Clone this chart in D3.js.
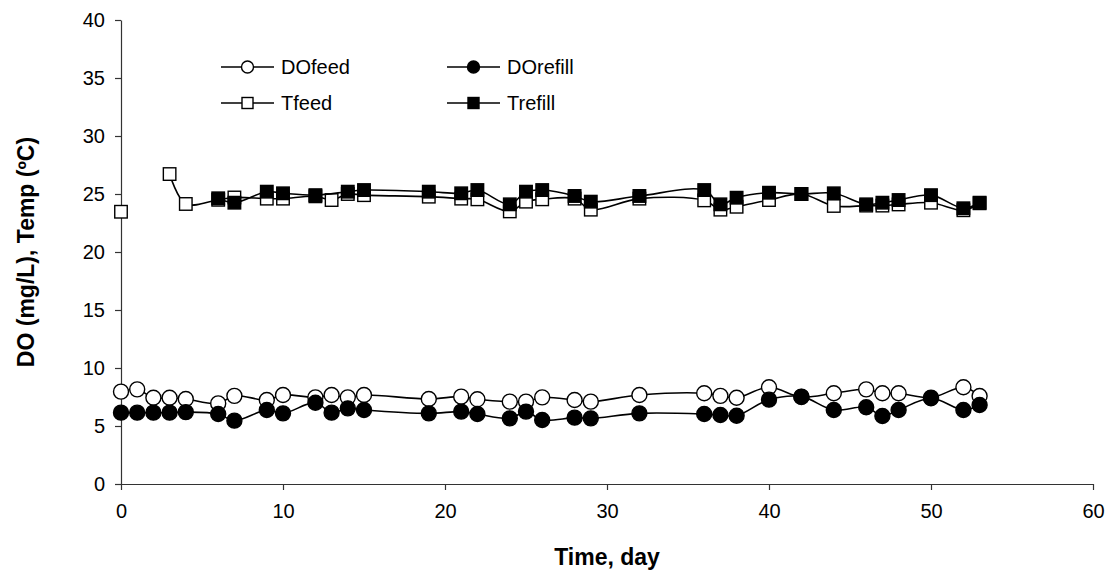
<!DOCTYPE html>
<html>
<head>
<meta charset="utf-8">
<script src="https://cdn.jsdelivr.net/npm/d3@7"></script>
<style>
  html, body { margin: 0; padding: 0; background: #fff; }
  svg { display: block; font-family: "Liberation Sans", Arial, sans-serif; }
</style>
</head>
<body>
<svg id="chart" width="1107" height="573"></svg>
<script>
// ---- data ----
const days = [0,1,2,3,4,6,7,9,10,12,13,14,15,19,21,22,24,25,26,28,29,32,36,37,38,40,42,44,46,47,48,50,52,53];
const DOfeed   = [7.96,8.16,7.44,7.44,7.33,6.95,7.6,7.24,7.67,7.47,7.67,7.47,7.67,7.33,7.53,7.3,7.1,7.1,7.47,7.24,7.1,7.67,7.82,7.6,7.44,8.34,7.5,7.82,8.16,7.82,7.82,7.45,8.34,7.59];
const DOrefill = [6.15,6.15,6.15,6.15,6.2,6.03,5.46,6.38,6.09,7.01,6.15,6.52,6.38,6.09,6.24,6.03,5.66,6.24,5.52,5.72,5.66,6.09,6.03,5.95,5.89,7.27,7.53,6.38,6.61,5.86,6.38,7.39,6.38,6.81];
const Tfeed    = [23.47,null,null,26.72,24.14,24.5,24.7,24.6,24.6,24.8,24.48,25.0,24.9,24.77,24.6,24.54,23.5,24.34,24.54,24.6,23.65,24.6,24.45,23.65,23.9,24.48,25.0,23.97,24.0,24.0,24.1,24.25,23.6,24.2];
const Trefill  = [null,null,null,null,null,24.63,24.25,25.2,25.06,24.9,null,25.2,25.34,25.2,25.06,25.34,24.11,25.2,25.34,24.83,24.34,24.83,25.34,24.11,24.68,25.11,25.0,25.06,24.11,24.25,24.48,24.9,23.77,24.25];
const seriesNames = ["DOfeed","DOrefill","Tfeed","Trefill"];
const xTicks = [0,10,20,30,40,50,60];
const yTicks = [0,5,10,15,20,25,30,35,40];
const xTitle = "Time, day";
const yTitle = "DO (mg/L), Temp (\u00BAC)";

// ---- series config ----
const series = [
  {name: seriesNames[0], values: DOfeed,   shape: "circle", fill: "#fff", gaps: false},
  {name: seriesNames[1], values: DOrefill, shape: "circle", fill: "#000", gaps: false},
  {name: seriesNames[2], values: Tfeed,    shape: "square", fill: "#fff", gaps: true},
  {name: seriesNames[3], values: Trefill,  shape: "square", fill: "#000", gaps: false}
];

const svg = d3.select("#chart");
const m = {left: 121, right: 1093, top: 20, bottom: 484};
const x = d3.scaleLinear().domain([0, 60]).range([m.left, m.right]);
const y = d3.scaleLinear().domain([0, 40]).range([m.bottom, m.top]);

// axes
const axisColor = "#333";
const xAxis = svg.append("g").attr("transform", `translate(0,${m.bottom})`)
  .call(d3.axisBottom(x).tickValues(xTicks).tickSize(6).tickPadding(14).tickSizeOuter(0));
const yAxis = svg.append("g").attr("transform", `translate(${m.left},0)`)
  .call(d3.axisLeft(y).tickValues(yTicks).tickSize(6).tickPadding(10).tickSizeOuter(0));
[xAxis, yAxis].forEach(g => {
  g.select(".domain").attr("stroke", axisColor).attr("stroke-width", 1.2);
  g.selectAll(".tick line").attr("stroke", axisColor).attr("stroke-width", 1.2);
  g.selectAll(".tick text").attr("fill", "#000").style("font-size", "20px")
    .style("font-family", "'Liberation Sans', Arial, sans-serif");
});

// titles
svg.append("text").attr("x", (m.left + m.right) / 2).attr("y", 565)
  .attr("text-anchor", "middle").style("font-size", "23px").style("font-weight", "bold")
  .text(xTitle);
svg.append("text").attr("transform", `translate(34,${(m.top + m.bottom) / 2}) rotate(-90)`)
  .attr("text-anchor", "middle").style("font-size", "23px").style("font-weight", "bold")
  .text(yTitle);

// markers
function drawMarker(g, shape, fill, cx, cy, size) {
  if (shape === "circle") {
    g.append("circle").attr("cx", cx).attr("cy", cy).attr("r", size / 2)
      .attr("fill", fill).attr("stroke", "#000").attr("stroke-width", 1.4);
  } else {
    g.append("rect").attr("x", cx - size / 2).attr("y", cy - size / 2)
      .attr("width", size).attr("height", size)
      .attr("fill", fill).attr("stroke", "#000").attr("stroke-width", 1.4);
  }
}

const curve = d3.curveCatmullRom.alpha(0.5);
series.forEach(s => {
  let pts = days.map((d, i) => ({d, v: s.values[i]}));
  if (!s.gaps) pts = pts.filter(p => p.v !== null);
  const line = d3.line().defined(p => p.v !== null)
    .x(p => x(p.d)).y(p => y(p.v)).curve(curve);
  const g = svg.append("g");
  g.append("path").attr("d", line(pts)).attr("fill", "none")
    .attr("stroke", "#000").attr("stroke-width", 1.6);
  pts.filter(p => p.v !== null).forEach(p => {
    drawMarker(g, s.shape, s.fill, x(p.d), y(p.v), s.shape === "circle" ? 15 : 12.5);
  });
});

// legend
const legendPos = [
  {lx: 221, ly: 67}, {lx: 447, ly: 67},
  {lx: 221, ly: 103}, {lx: 447, ly: 103}
];
series.forEach((s, i) => {
  const p = legendPos[i];
  const g = svg.append("g");
  g.append("line").attr("x1", p.lx).attr("x2", p.lx + 53).attr("y1", p.ly).attr("y2", p.ly)
    .attr("stroke", "#000").attr("stroke-width", 1.6);
  drawMarker(g, s.shape, s.fill, p.lx + 26.5, p.ly, s.shape === "circle" ? 12 : 11);
  g.append("text").attr("x", p.lx + 60).attr("y", p.ly).attr("dy", "0.35em")
    .style("font-size", "20px").text(s.name);
});
</script>
</body>
</html>
